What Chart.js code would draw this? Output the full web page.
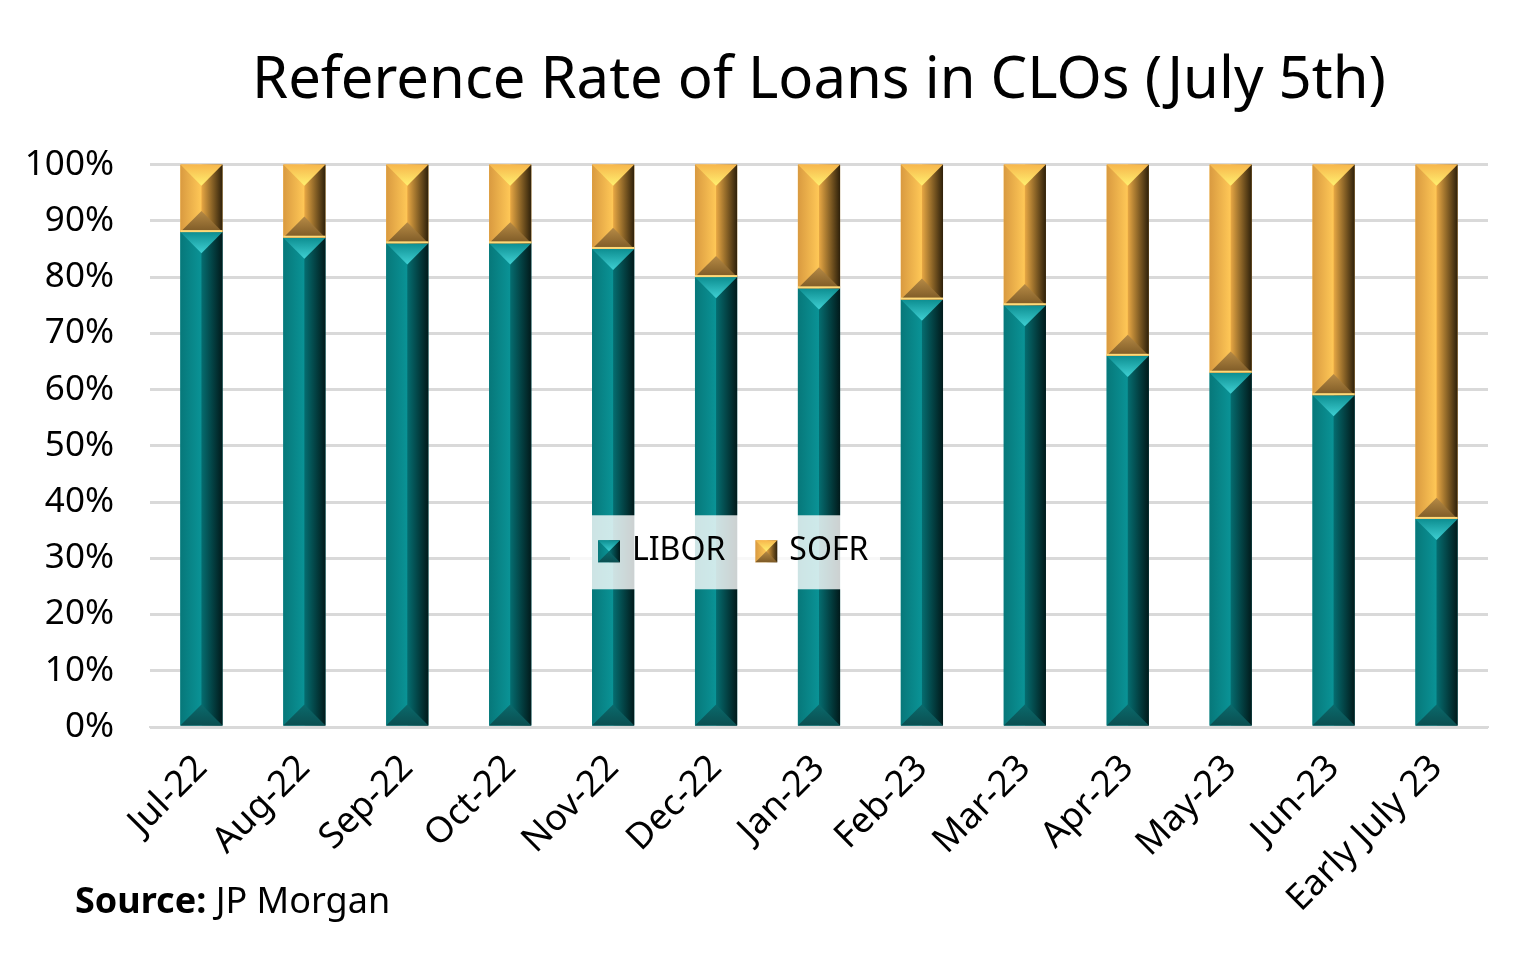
<!DOCTYPE html>
<html>
<head>
<meta charset="utf-8">
<script src="https://cdn.jsdelivr.net/npm/chart.js@4"></script>
<style>
  html, body { margin: 0; padding: 0; background: #fff; }
  #wrap { width: 1536px; height: 957px; position: relative; }
</style>
</head>
<body>
<div id="wrap"><canvas id="myChart" width="1536" height="957"></canvas></div>
<script>
const categories = ['Jul-22', 'Aug-22', 'Sep-22', 'Oct-22', 'Nov-22', 'Dec-22', 'Jan-23', 'Feb-23', 'Mar-23', 'Apr-23', 'May-23', 'Jun-23', 'Early July 23'];
const liborValues = [88, 87, 86, 86, 85, 80, 78, 76, 75, 66, 63, 59, 37];
const sofrValues = [12, 13, 14, 14, 15, 20, 22, 24, 25, 34, 37, 41, 63];
const yTicks = [0, 10, 20, 30, 40, 50, 60, 70, 80, 90, 100];

const FONT = "'Noto Sans', sans-serif";

// bevel look per series
const bevel = {
    LIBOR: { edgeL: '#07787a', mid: '#0a9396', midR: '#056d70', edgeR: '#011a1b', top: ['#3fd0d3', '#0d8e91'], bottom: ['#0b4f51', '#0a6a6c'] },
    SOFR: { edgeL: '#d99a40', mid: '#ffc857', midR: '#e8a844', edgeR: '#2e200a', top: ['#fff070', '#f7b64c'], bottom: ['#7d5a26', '#b68a45'] }
};

function drawBevelBox(ctx, L, T, R, B, s) {
    const w = R - L, cx = (L + R) / 2;
    const d = Math.min(w / 2, (B - T) / 2);
    let g = ctx.createLinearGradient(L, 0, cx, 0);
    g.addColorStop(0, s.edgeL);
    g.addColorStop(1, s.mid);
    ctx.fillStyle = g;
    ctx.fillRect(L, T, cx - L, B - T);
    g = ctx.createLinearGradient(cx, 0, R, 0);
    g.addColorStop(0, s.midR);
    g.addColorStop(1, s.edgeR);
    ctx.fillStyle = g;
    ctx.fillRect(cx, T, R - cx, B - T);
    // top facet
    g = ctx.createLinearGradient(0, T, 0, T + d);
    g.addColorStop(0, s.top[1]);
    g.addColorStop(1, s.top[0]);
    ctx.fillStyle = g;
    ctx.beginPath();
    ctx.moveTo(L, T); ctx.lineTo(R, T); ctx.lineTo(cx, T + d); ctx.closePath();
    ctx.fill();
    // bottom facet
    g = ctx.createLinearGradient(0, B - d, 0, B);
    g.addColorStop(0, s.bottom[1]);
    g.addColorStop(1, s.bottom[0]);
    ctx.fillStyle = g;
    ctx.beginPath();
    ctx.moveTo(L, B); ctx.lineTo(R, B); ctx.lineTo(cx, B - d); ctx.closePath();
    ctx.fill();
}

const bevelPlugin = {
    id: 'bevel',
    afterDatasetsDraw(chart) {
        const ctx = chart.ctx;
        ctx.save();
        chart.data.datasets.forEach((ds, di) => {
            const meta = chart.getDatasetMeta(di);
            const s = bevel[ds.label];
            meta.data.forEach(bar => {
                const p = bar.getProps(['x', 'y', 'base', 'width'], true);
                const L = p.x - p.width / 2, R = p.x + p.width / 2;
                const T = Math.min(p.y, p.base), B = Math.max(p.y, p.base);
                drawBevelBox(ctx, L, T, R, B, s);
                if (ds.label === 'SOFR') {
                    ctx.fillStyle = '#ffd978';
                    ctx.fillRect(L, B - 2, R - L, 2);
                }
            });
        });

        // legend in the middle of the plot
        const y30 = chart.scales.y.getPixelForValue(30);
        const boxL = 570, boxW = 310;
        ctx.fillStyle = 'rgba(255,255,255,0.8)';
        ctx.fillRect(boxL, y30 - 43, boxW, 74);
        ctx.font = '32px ' + FONT;
        ctx.textBaseline = 'middle';
        let x = boxL + 28;
        chart.data.datasets.forEach(ds => {
            drawBevelBox(ctx, x, y30 - 18, x + 22, y30 + 4, bevel[ds.label]);
            ctx.fillStyle = '#000';
            ctx.fillText(ds.label, x + 34, y30 - 7);
            x += 34 + ctx.measureText(ds.label).width + 30;
        });

        // source note
        ctx.fillStyle = '#000';
        ctx.textBaseline = 'alphabetic';
        ctx.font = 'bold 36px ' + FONT;
        ctx.fillText('Source:', 75, 913);
        const sw = ctx.measureText('Source: ').width;
        ctx.font = '36px ' + FONT;
        ctx.fillText('JP Morgan', 75 + sw, 913);
        ctx.restore();
    }
};

new Chart(document.getElementById('myChart'), {
    type: 'bar',
    data: {
        labels: categories,
        datasets: [
            { label: 'LIBOR', data: liborValues, backgroundColor: '#0a8a8c', borderWidth: 0 },
            { label: 'SOFR', data: sofrValues, backgroundColor: '#ffc04d', borderWidth: 0 }
        ]
    },
    options: {
        responsive: false,
        animation: false,
        layout: { padding: { top: 47, right: 48, left: 8, bottom: 0 } },
        datasets: { bar: { categoryPercentage: 1, barPercentage: 0.41 } },
        plugins: {
            legend: { display: false },
            tooltip: { enabled: false },
            title: {
                display: true,
                fullSize: false,
                text: 'Reference Rate of Loans in CLOs (July 5th)',
                color: '#000',
                font: { family: FONT, size: 58, weight: 'normal' },
                padding: { top: 0, bottom: 48 }
            }
        },
        scales: {
            x: {
                stacked: true,
                grid: { display: false },
                border: { color: '#d9d9d9', width: 2 },
                ticks: {
                    color: '#000',
                    font: { family: FONT, size: 36 },
                    minRotation: 45, maxRotation: 45,
                    padding: 12
                },
                afterFit(scale) { scale.height = 230; }
            },
            y: {
                stacked: true,
                min: 0, max: 100,
                afterBuildTicks(scale) { scale.ticks = yTicks.map(v => ({ value: v })); },
                grid: { color: '#d9d9d9', lineWidth: 3, drawTicks: false },
                border: { display: false },
                ticks: {
                    color: '#000',
                    font: { family: FONT, size: 35 },
                    padding: 36,
                    callback: v => v + '%'
                },
                afterFit(scale) { scale.width = 142; }
            }
        }
    },
    plugins: [bevelPlugin]
});
</script>
</body>
</html>
